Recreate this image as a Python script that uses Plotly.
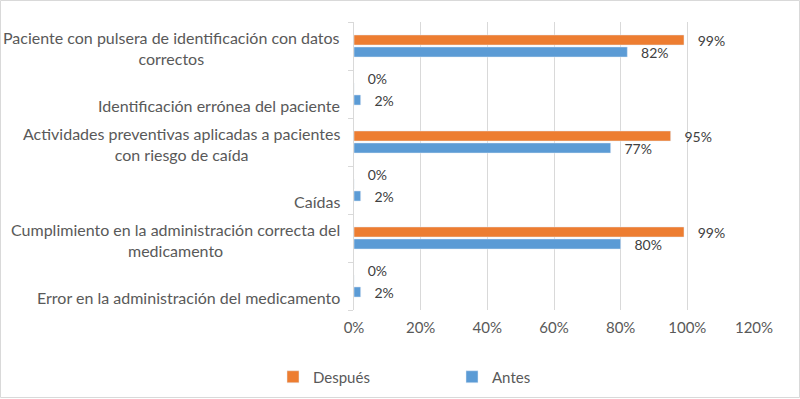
import plotly.graph_objects as go

# Data (bottom-to-top order for the horizontal bars)
categorias = [
    "Error en la administración del medicamento",
    "Cumplimiento en la administración correcta del<br>medicamento",
    "Caídas",
    "Actividades preventivas aplicadas a pacientes<br>con riesgo de caída",
    "Identificación errónea del paciente",
    "Paciente con pulsera de identificación con datos<br>correctos",
]
antes = [0.02, 0.80, 0.02, 0.77, 0.02, 0.82]
despues = [0.00, 0.99, 0.00, 0.95, 0.00, 0.99]

W, H = 800, 399
ML, MR, MT, MB = 354, 46, 22, 89
pw, ph = W - ML - MR, H - MT - MB

gris = "#595959"
font = "Lato, 'Open Sans', sans-serif"
pad = "\u00a0\u00a0\u00a0"


def etiqueta(v, subir=False):
    t = pad + f"{v:.0%}"
    # Excel lifts the zero labels a little above their (empty) bar
    if subir and v == 0:
        t += "<br> "
    return t


fig = go.Figure()
fig.add_trace(go.Bar(y=categorias, x=antes, orientation="h", name="Antes",
                     marker=dict(color="#5B9BD5"),
                     text=[etiqueta(v) for v in antes], textposition="outside",
                     cliponaxis=False, constraintext="none",
                     textfont=dict(color="#404040", size=14)))
fig.add_trace(go.Bar(y=categorias, x=despues, orientation="h", name="Después",
                     marker=dict(color="#ED7D31"),
                     text=[etiqueta(v, True) for v in despues], textposition="outside",
                     cliponaxis=False, constraintext="none",
                     textfont=dict(color="#404040", size=14)))

# category labels, centred lines like the original
for c in categorias:
    one_line = "<br>" not in c
    fig.add_annotation(x=0, y=c, xref="paper", yref="y", text=c,
                       xanchor="right", yanchor="middle", align="center",
                       xshift=-12, yshift=-11 if one_line else -2,
                       showarrow=False, font=dict(color=gris, size=16, family=font))

# outer border
fig.add_shape(type="rect", xref="paper", yref="paper",
              x0=-ML / pw + 0.5 / pw, x1=1 + MR / pw - 0.5 / pw,
              y0=-MB / ph + 1.5 / ph, y1=1 + MT / ph - 0.5 / ph,
              line=dict(color="#d9d9d9", width=1))

fig.update_layout(
    width=W, height=H,
    margin=dict(l=ML, r=MR, t=MT, b=MB, autoexpand=False),
    paper_bgcolor="white", plot_bgcolor="white",
    barmode="group", bargap=0.5, bargroupgap=0.16,
    font=dict(family=font, color=gris, size=15),
    showlegend=True,
    legend=dict(orientation="h", x=(273 - ML) / pw, xanchor="left",
                y=-(377 - (H - MB)) / ph, yanchor="middle", bgcolor="rgba(0,0,0,0)",
                traceorder="reversed", entrywidth=134, font=dict(size=15)),
    xaxis=dict(range=[0, 1.2], dtick=0.2, tickformat=".0%", showgrid=True,
               gridcolor="#d9d9d9", gridwidth=1, zeroline=False, showline=False,
               ticks="", ticklabelstandoff=7, tickfont=dict(size=15, color=gris)),
    yaxis=dict(type="category", showticklabels=False, showline=True, linecolor="#d9d9d9",
               ticks="outside", tickson="boundaries", ticklen=5, tickcolor="#d9d9d9",
               showgrid=False),
)

fig.write_html("out.html", config={"displayModeBar": False},
               post_script="document.body.style.margin='0';")
